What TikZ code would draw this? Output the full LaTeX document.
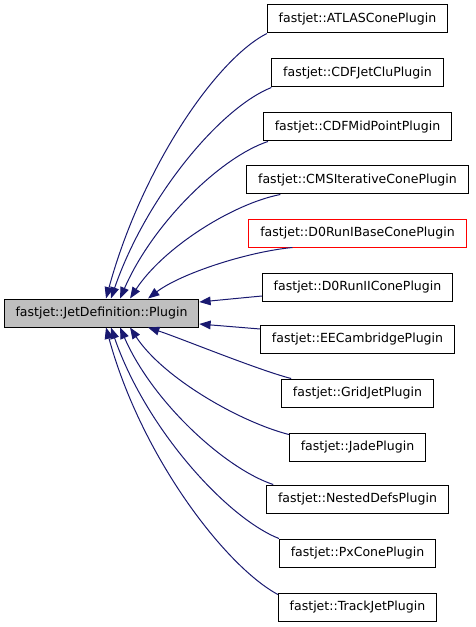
\documentclass[tikz,border=0pt]{standalone}
\usepackage{fontspec}
\setmainfont{DejaVu Sans}
\usetikzlibrary{arrows.meta}
\definecolor{edgeblue}{HTML}{191970}
\definecolor{basegray}{HTML}{BFBFBF}

\begin{document}
\begin{tikzpicture}[x=0.75pt,y=-0.75pt,
  cls/.style={draw, fill=white, line width=0.75pt, inner xsep=8.5pt, inner ysep=0pt,
    minimum height=21pt, font=\fontsize{9.4}{11}\selectfont},
  inh/.style={draw=edgeblue, line width=0.75pt, -{Triangle[length=8.5pt,width=6.5pt]}}]
\useasboundingbox (0,0) rectangle (475,627);
\node[cls, fill=basegray](plugin) at (101.5,313) {fastjet::JetDefinition::Plugin};

\node[cls](atlas) at (357.5,19) {fastjet::ATLASConePlugin};
\node[cls](cdfjetclu) at (357.5,73) {fastjet::CDFJetCluPlugin};
\node[cls](cdfmid) at (357.5,127) {fastjet::CDFMidPointPlugin};
\node[cls](cms) at (357.5,180) {fastjet::CMSIterativeConePlugin};
\node[cls, draw=red](d0runi) at (357.5,233) {fastjet::D0RunIBaseConePlugin};
\node[cls](d0runii) at (357.5,287) {fastjet::D0RunIIConePlugin};
\node[cls](eecam) at (357.5,339) {fastjet::EECambridgePlugin};
\node[cls](gridjet) at (357.5,393) {fastjet::GridJetPlugin};
\node[cls](jade) at (357.5,447) {fastjet::JadePlugin};
\node[cls](nested) at (357.5,499) {fastjet::NestedDefsPlugin};
\node[cls](pxcone) at (357.5,553) {fastjet::PxConePlugin};
\node[cls](trackjet) at (357.5,607) {fastjet::TrackJetPlugin};

% upper edges
\draw[inh] (atlas.south west) .. controls (215,60) and (141,170) .. ([xshift=3.4pt]plugin.north);
\draw[inh] (cdfjetclu.south west) .. controls (220,108) and (146,197) .. ([xshift=7.1pt]plugin.north);
\draw[inh] ([xshift=3.75pt]cdfmid.south west) .. controls (221,157) and (153,223) .. ([xshift=13.9pt]plugin.north);
\draw[inh] ([xshift=25.5pt]cms.south west) .. controls (232,204) and (163,248) .. ([xshift=21.4pt]plugin.north);
\draw[inh] ([xshift=33pt]d0runi.south west) .. controls (246,252) and (180,274) .. ([xshift=34.9pt]plugin.north);
% side edges
\draw[inh] ([yshift=-6.75pt]d0runii.west) -- ([yshift=8.25pt]plugin.east);
\draw[inh] ([yshift=7.5pt]eecam.west) -- ([yshift=-8.25pt]plugin.east);
% lower edges
\draw[inh] ([xshift=7.5pt]gridjet.north west) .. controls (258,370) and (180,338) .. ([xshift=34.9pt]plugin.south);
\draw[inh] ([yshift=-1.5pt]jade.north west) .. controls (240,422) and (163,378) .. ([xshift=21.4pt]plugin.south);
\draw[inh] ([xshift=5.25pt]nested.north west) .. controls (226,469) and (153,403) .. ([xshift=13.9pt]plugin.south);
\draw[inh] (pxcone.north west) .. controls (227,518) and (146,429) .. ([xshift=7.1pt]plugin.south);
\draw[inh] ([yshift=-1.5pt]trackjet.north west) .. controls (225,566) and (141,456) .. ([xshift=3.4pt]plugin.south);
\end{tikzpicture}
\end{document}
